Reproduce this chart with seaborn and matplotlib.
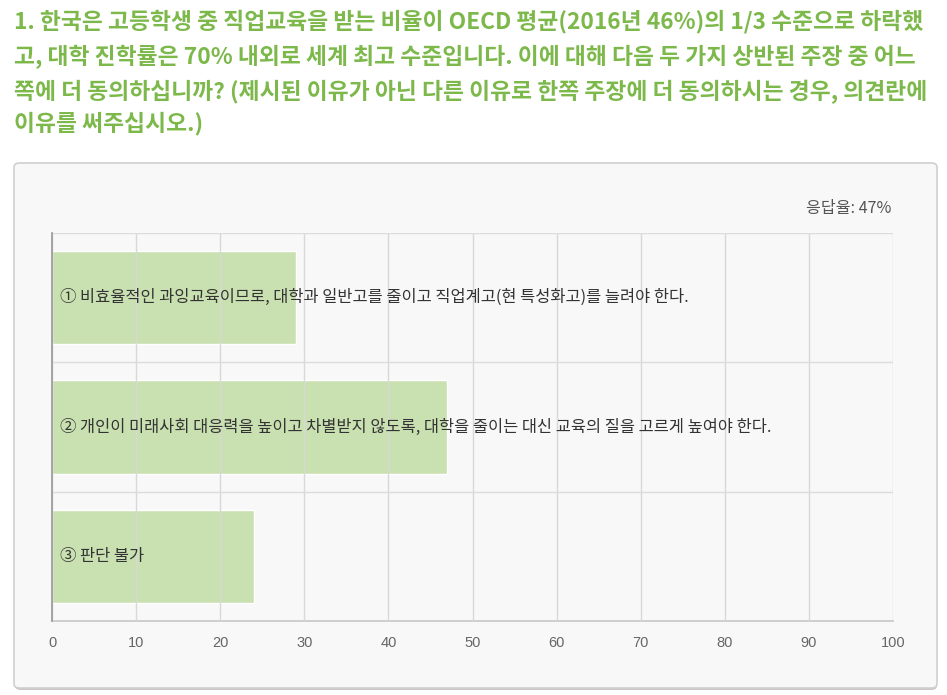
import matplotlib
matplotlib.use("Agg")
import matplotlib.pyplot as plt
import seaborn as sns
import pandas as pd
from matplotlib.patches import FancyBboxPatch

categories = [
    "① 비효율적인 과잉교육이므로, 대학과 일반고를 줄이고 직업계고(현 특성화고)를 늘려야 한다.",
    "② 개인이 미래사회 대응력을 높이고 차별받지 않도록, 대학을 줄이는 대신 교육의 질을 고르게 높여야 한다.",
    "③ 판단 불가",
]
values = [29, 47, 24]
xticks = [0, 10, 20, 30, 40, 50, 60, 70, 80, 90, 100]
title_lines = [
    "1. 한국은 고등학생 중 직업교육을 받는 비율이 OECD 평균(2016년 46%)의 1/3 수준으로 하락했",
    "고, 대학 진학률은 70% 내외로 세계 최고 수준입니다. 이에 대해 다음 두 가지 상반된 주장 중 어느",
    "쪽에 더 동의하십니까? (제시된 이유가 아닌 다른 이유로 한쪽 주장에 더 동의하시는 경우, 의견란에",
    "이유를 써주십시오.)",
]
response_rate = "응답율: 47%"

sns.set_theme(style="white")
plt.rcParams["font.family"] = ["Noto Sans CJK KR", "DejaVu Sans"]

W, H = 947, 695
fig = plt.figure(figsize=(W / 100, H / 100), dpi=100)
fig.patch.set_facecolor("white")

# panel
shadow = FancyBboxPatch((15 / W, 1 - 690 / H), (937 - 15) / W, (690 - 165) / H,
                        boxstyle="round,pad=0,rounding_size=0.006",
                        transform=fig.transFigure, facecolor="#c8c8c8",
                        edgecolor="none", zorder=-2)
fig.patches.append(shadow)
panel = FancyBboxPatch((14 / W, 1 - 688 / H), (937 - 14) / W, (688 - 163) / H,
                       boxstyle="round,pad=0,rounding_size=0.006",
                       transform=fig.transFigure, facecolor="#f8f8f8",
                       edgecolor="#d0d0d0", linewidth=1.2, zorder=-1)
fig.patches.append(panel)

ax = fig.add_axes([52 / W, 1 - 621 / H, (893 - 52) / W, (621 - 233) / H])
ax.set_zorder(2)
ax.set_facecolor("#f8f8f8")

df = pd.DataFrame({"cat": categories, "val": values})
sns.barplot(data=df, x="val", y="cat", orient="h", color="#c9e0b1",
            saturation=1, width=0.72, ax=ax, zorder=1)

ax.set_xlim(0, 100)
ax.set_ylim(2.5, -0.5)
ax.set_xticks(xticks)
ax.set_xticklabels([str(t) for t in xticks], color="#666666", fontsize=10.5,
                   fontfamily=["Liberation Sans", "DejaVu Sans"])
ax.set_yticks([0, 1, 2])
ax.set_yticklabels([])
ax.set_yticks([-0.5, 0.5, 1.5, 2.5], minor=True)
ax.tick_params(axis="y", which="major", length=0)
ax.tick_params(axis="y", which="minor", length=9, color="#d0d0d0", width=1)
ax.tick_params(axis="x", length=8, color="#d0d0d0", width=1, pad=3)
ax.set_xlabel("")
ax.set_ylabel("")

ax.grid(True, axis="x", color="#d8d8d8", linewidth=1, zorder=2)
ax.grid(True, axis="y", which="minor", color="#dcdcdc", linewidth=1, zorder=2)
ax.set_axisbelow(False)
for s in ["top", "right"]:
    ax.spines[s].set_visible(False)
ax.spines["bottom"].set_color("#c8c8c8")
ax.spines["left"].set_color("#9a9a9a")
ax.spines["left"].set_zorder(3)

for i, c in enumerate(categories):
    ax.text(0.9, i, c, va="center", ha="left", fontsize=11.8, color="#333333", zorder=4)

fig.text(891 / W, 1 - 208 / H, response_rate, ha="right", va="center",
         fontsize=11.6, color="#555555")

ys = [22, 57, 92, 124]
for y, line in zip(ys, title_lines):
    fig.text(14 / W, 1 - y / H, line, ha="left", va="center", fontsize=16.4,
             fontweight="bold", color="#7cb84a")

fig.savefig("out.png", dpi=100, facecolor="white")
